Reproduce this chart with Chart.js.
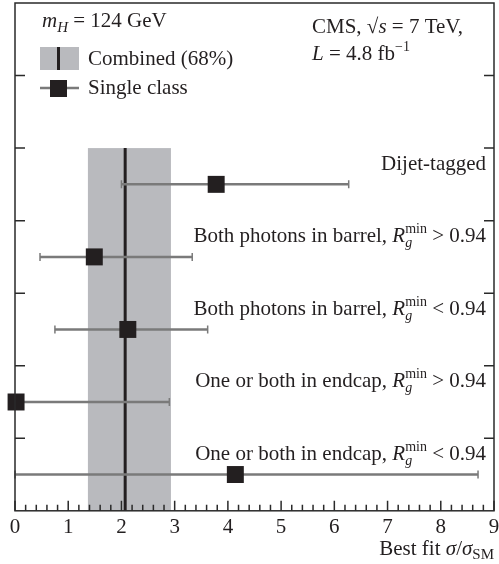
<!DOCTYPE html>
<html>
<head>
<meta charset="utf-8">
<script src="https://cdn.jsdelivr.net/npm/chart.js@4"></script>
<style>
  html, body { margin: 0; padding: 0; background: #fff; }
  #wrap { width: 499px; height: 564px; }
</style>
</head>
<body>
<div id="wrap"><canvas id="myChart"></canvas></div>
<script>
// categories (top to bottom) and their row position on the y scale
var rowNames = ['Dijet-tagged', 'Both photons in barrel,', 'Both photons in barrel,', 'One or both in endcap,', 'One or both in endcap,']
var rowCuts = ['', '> 0.94', '< 0.94', '> 0.94', '< 0.94']
var rowY = [4.5, 3.5, 2.5, 1.5, 0.5]

// single-class best fits and 68% intervals
var bestFit = [3.78, 1.49, 2.12, 0.02, 4.14]
var errLow = [2.0, 0.47, 0.75, 0.0, 0.0]
var errHigh = [6.27, 3.33, 3.62, 2.9, 8.7]

// combined result
var combinedFit = 2.07
var combinedLow = 1.37
var combinedHigh = 2.93
var combinedTop = 5

var xTicks = [0, 1, 2, 3, 4, 5, 6, 7, 8, 9]
var yTicks = [1, 2, 3, 4, 5, 6]

var FONT = '"Liberation Serif", "DejaVu Serif", serif'
var BAND = '#b9babe'
var ERR = '#7a7a7a'
var DARK = '#231f20'

// pieces are [text, style, dy, size, noAdvance]
function richWidth(ctx, parts) {
    var w = 0
    parts.forEach(function(p){
        ctx.font = (p[1] || '') + ' ' + (p[3] || 21) + 'px ' + FONT
        if (!p[4]) w += ctx.measureText(p[0]).width
    })
    return w
}
function richText(ctx, parts, x, y) {
    var cx = x
    var last = x
    parts.forEach(function(p){
        ctx.font = (p[1] || '') + ' ' + (p[3] || 21) + 'px ' + FONT
        var sx = p[4] ? last : cx
        ctx.fillText(p[0], sx, y + (p[2] || 0))
        if (!p[4]) { last = cx; cx += ctx.measureText(p[0]).width }
    })
}

function rowParts(i) {
    if (!rowCuts[i]) return [[rowNames[i], '', 0, 21]]
    return [
        [rowNames[i] + ' ', '', 0, 21],
        ['R', 'italic', 0, 21],
        ['min', '', -9, 14],
        ['g', 'italic', 5, 14, true],
        [' ' + rowCuts[i], '', 0, 21]
    ]
}

var decorPlugin = {
    id: 'decor',
    beforeDatasetsDraw: function(chart) {
        var ctx = chart.ctx
        var xs = chart.scales.x, ys = chart.scales.y
        ctx.save()
        ctx.fillStyle = BAND
        var x0 = xs.getPixelForValue(combinedLow), x1 = xs.getPixelForValue(combinedHigh)
        var y0 = ys.getPixelForValue(combinedTop), y1 = ys.getPixelForValue(0)
        ctx.fillRect(x0, y0, x1 - x0, y1 - y0)
        ctx.restore()
    },
    afterDatasetDraw: function(chart, args) {
        if (args.index !== 0) return
        var ctx = chart.ctx
        var xs = chart.scales.x, ys = chart.scales.y
        ctx.save()
        ctx.strokeStyle = ERR
        for (var i = 0; i < bestFit.length; i++) {
            var y = ys.getPixelForValue(rowY[i])
            var a = xs.getPixelForValue(errLow[i]), b = xs.getPixelForValue(errHigh[i])
            ctx.lineWidth = 2.5
            ctx.beginPath()
            ctx.moveTo(a, y); ctx.lineTo(b, y)
            ctx.stroke()
            ctx.lineWidth = 1.5
            ctx.beginPath()
            ctx.moveTo(a, y - 4); ctx.lineTo(a, y + 4)
            ctx.moveTo(b, y - 4); ctx.lineTo(b, y + 4)
            ctx.stroke()
        }
        ctx.restore()
    },
    afterDraw: function(chart) {
        var ctx = chart.ctx
        var xs = chart.scales.x, ys = chart.scales.y
        var ca = chart.chartArea
        ctx.save()
        // frame
        ctx.strokeStyle = '#2a2a2a'
        ctx.lineWidth = 1.5
        ctx.strokeRect(ca.left, ca.top, ca.right - ca.left, ca.bottom - ca.top)
        // inward ticks on x
        ctx.beginPath()
        for (var v = 0; v <= 9.001; v += 0.2) {
            var px = xs.getPixelForValue(v)
            var major = Math.abs(v - Math.round(v)) < 0.01
            ctx.moveTo(px, ca.bottom)
            ctx.lineTo(px, ca.bottom - (major ? 10 : 6))
        }
        // inward ticks on y, both sides
        yTicks.forEach(function(t){
            var py = ys.getPixelForValue(t)
            ctx.moveTo(ca.left, py); ctx.lineTo(ca.left + 10, py)
            ctx.moveTo(ca.right, py); ctx.lineTo(ca.right - 10, py)
        })
        ctx.stroke()

        // row labels
        ctx.fillStyle = DARK
        ctx.textBaseline = 'alphabetic'
        for (var i = 0; i < rowNames.length; i++) {
            var parts = rowParts(i)
            var w = richWidth(ctx, parts)
            var ly = ys.getPixelForValue(rowY[i] + 0.3) + 7
            richText(ctx, parts, xs.getPixelForValue(8.85) - w, ly)
        }

        // legend block
        richText(ctx, [['m', 'italic', 0, 21], ['H', 'italic', 5, 15], [' = 124 GeV', '', 0, 21]], 42, 27)
        ctx.fillStyle = BAND
        ctx.fillRect(40, 47, 39, 23)
        ctx.fillStyle = DARK
        ctx.fillRect(57, 47, 3, 23)
        ctx.font = '21px ' + FONT
        ctx.fillText('Combined (68%)', 88, 65)
        ctx.strokeStyle = ERR
        ctx.lineWidth = 2.5
        ctx.beginPath(); ctx.moveTo(40, 88); ctx.lineTo(79, 88); ctx.stroke()
        ctx.fillStyle = DARK
        ctx.fillRect(50, 80, 17, 17)
        ctx.font = '21px ' + FONT
        ctx.fillText('Single class', 88, 94)

        // CMS label
        richText(ctx, [['CMS, ', '', 0, 21], ['\u221A', '', 0, 21], ['s', 'italic', 0, 21], [' = 7 TeV,', '', 0, 21]], 312, 33)
        richText(ctx, [['L', 'italic', 0, 21], [' = 4.8 fb', '', 0, 21], ['\u22121', '', -9, 14]], 312, 60)

        // x axis title
        var title = [['Best fit ', '', 0, 21], ['\u03C3', 'italic', 0, 21], ['/', '', 0, 21], ['\u03C3', 'italic', 0, 21], ['SM', '', 4, 15]]
        var tw = richWidth(ctx, title)
        richText(ctx, title, ca.right - tw, 555)
        ctx.restore()
    }
}

var ctx = document.getElementById('myChart').getContext('2d')
var myChart = new Chart(ctx, {
    type: 'scatter',
    data: {
        datasets: [{
            label: 'Combined',
            type: 'line',
            data: [{x: combinedFit, y: 0}, {x: combinedFit, y: combinedTop}],
            borderColor: DARK,
            borderWidth: 3,
            pointRadius: 0,
            order: 1
        }, {
            label: 'Single class',
            data: bestFit.map(function(v, i){ return {x: v, y: rowY[i]} }),
            pointStyle: 'rect',
            pointRadius: 12,
            pointHoverRadius: 12,
            backgroundColor: DARK,
            borderColor: DARK,
            borderWidth: 0,
            order: 0
        }]
    },
    options: {
        responsive: true,
        maintainAspectRatio: false,
        animation: false,
        clip: false,
        layout: { autoPadding: false, padding: { left: 15, right: 5, top: 3, bottom: 20 } },
        plugins: { legend: { display: false }, tooltip: { enabled: false } },
        scales: {
            x: {
                type: 'linear',
                min: 0,
                max: 9,
                afterBuildTicks: function(axis){ axis.ticks = xTicks.map(function(v){ return {value: v} }) },
                afterFit: function(axis){ axis.paddingLeft = 0; axis.paddingRight = 0 },
                grid: { display: false, drawTicks: false },
                border: { display: false },
                ticks: {
                    color: DARK,
                    padding: 4,
                    font: { family: FONT, size: 21 }
                }
            },
            y: {
                type: 'linear',
                min: 0,
                max: 7,
                display: false
            }
        }
    },
    plugins: [decorPlugin]
})
</script>
</body>
</html>
